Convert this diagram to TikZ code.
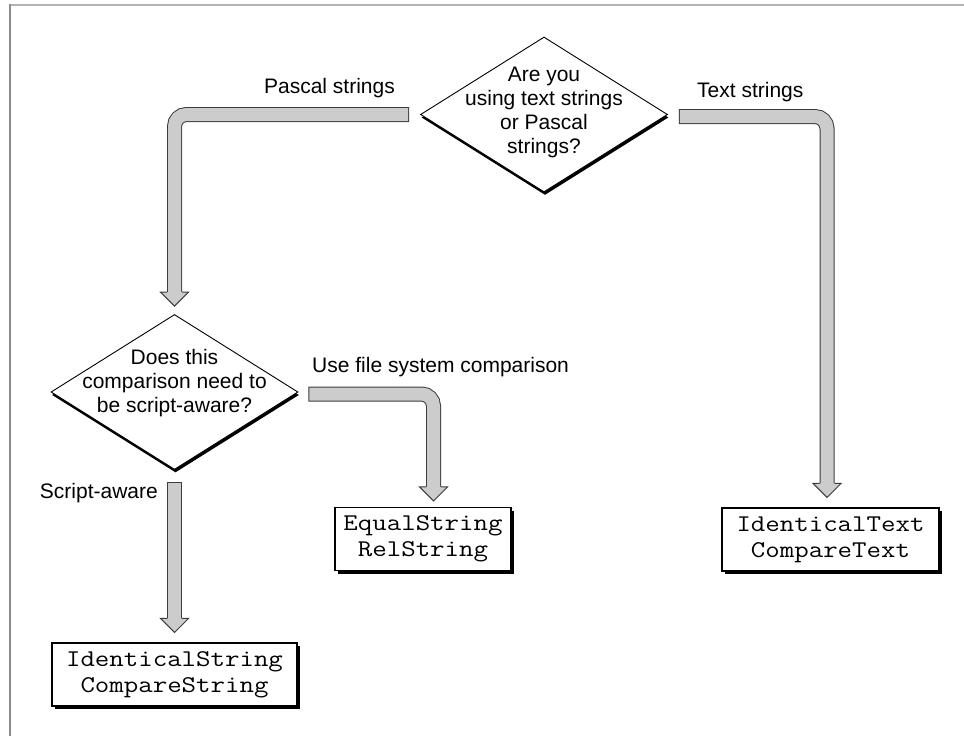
\documentclass[tikz,border=0pt]{standalone}
\usepackage{fontspec}
\setmainfont{Liberation Sans}
\newfontfamily\codefont[FakeStretch=1.17]{Latin Modern Mono}
\usetikzlibrary{shapes.geometric,shadows}

\definecolor{pipegray}{RGB}{204,204,204}
\definecolor{pipeedge}{RGB}{60,60,60}
\definecolor{framelt}{RGB}{180,180,180}
\definecolor{framedk}{RGB}{140,140,140}

\tikzset{
  decision/.style={diamond, draw, fill=white, line width=0.9pt, inner sep=0pt,
    minimum width=247pt, minimum height=155pt,
    drop shadow={shadow xshift=1pt, shadow yshift=-3pt, fill=black, opacity=1}},
  qtext/.style={align=center, font=\fontsize{21}{24}\selectfont},
  fnbox/.style={draw, fill=white, line width=1.1pt, align=center, minimum height=63pt,
    font=\fontsize{24}{26}\codefont,
    drop shadow={shadow xshift=3pt, shadow yshift=-3pt, fill=black, opacity=1}},
  branchlbl/.style={font=\fontsize{21}{24}\selectfont, inner sep=0pt},
  pipe/.style={draw=pipeedge, line width=1pt, double=pipegray, double distance=13pt,
    line cap=rect, rounded corners=12pt},
}

% punta della freccia grossa, rivolta in basso
\newcommand{\pipetip}[1]{%
  \fill[pipegray] ([shift={(-14pt,14pt)}]#1) -- (#1) -- ([shift={(14pt,14pt)}]#1) -- cycle;
  \draw[pipeedge, line width=1pt] ([shift={(-7.5pt,14pt)}]#1) -- ([shift={(-14pt,14pt)}]#1)
    -- (#1) -- ([shift={(14pt,14pt)}]#1) -- ([shift={(7.5pt,14pt)}]#1);
}

\begin{document}
\begin{tikzpicture}[x=1pt,y=-1pt]

    \useasboundingbox (0,0) rectangle (964,736);

    % Cornice
    \draw[framelt, line width=2pt] (10,5) -- (964,5);
    \draw[framedk, line width=1.4pt] (10,4) -- (10,736);

    % Domande
    \node[decision] (q1) at (544,114.5) {};
    \node[qtext] (q1t) at (544,112) {Are you\\using text strings\\or Pascal\\strings?};
    \node[decision] (q2) at (174.5,392) {};
    \node[qtext] (q2t) at (174.5,383) {Does this\\comparison need to\\be script-aware?};

    % Riquadri
    \node[fnbox, minimum width=245pt] (idstring) at (174.5,674.5) {IdenticalString\\CompareString};
    \node[fnbox, minimum width=176pt] (equal) at (423,539) {EqualString\\RelString};
    \node[fnbox, minimum width=217pt] (idtext) at (830.5,539.5) {IdenticalText\\CompareText};

    % Punte
    \coordinate (tpascal) at ([yshift=8pt]q2.north);
    \coordinate (tscript) at ([yshift=10pt]idstring.north);
    \coordinate (tequal) at ([xshift=10.5pt,yshift=6pt]equal.north);
    \coordinate (ttext) at ([xshift=-3.5pt,yshift=10pt]idtext.north);

    % Frecce
    \draw[pipe] ([xshift=-18.5pt]q1.west) -| ([yshift=19pt]tpascal);
    \pipetip{tpascal}
    \draw[pipe] ([xshift=18.5pt,yshift=-2pt]q1.east) -| ([yshift=19pt]ttext);
    \pipetip{ttext}
    \draw[pipe] ([xshift=17.5pt,yshift=-2pt]q2.east) -| ([yshift=19pt]tequal);
    \pipetip{tequal}
    \draw[pipe] ([yshift=-19.5pt]q2.south) -- ([yshift=19pt]tscript);
    \pipetip{tscript}

    % Etichette
    \node[branchlbl, anchor=east] (lpascal) at (395,88) {Pascal strings};
    \node[branchlbl, anchor=west] (ltext) at (697,92) {Text strings};
    \node[branchlbl, anchor=west] (lfile) at (312,367) {Use file system comparison};
    \node[branchlbl, anchor=east] (lscript) at (158,493) {Script-aware};

\end{tikzpicture}
\end{document}
